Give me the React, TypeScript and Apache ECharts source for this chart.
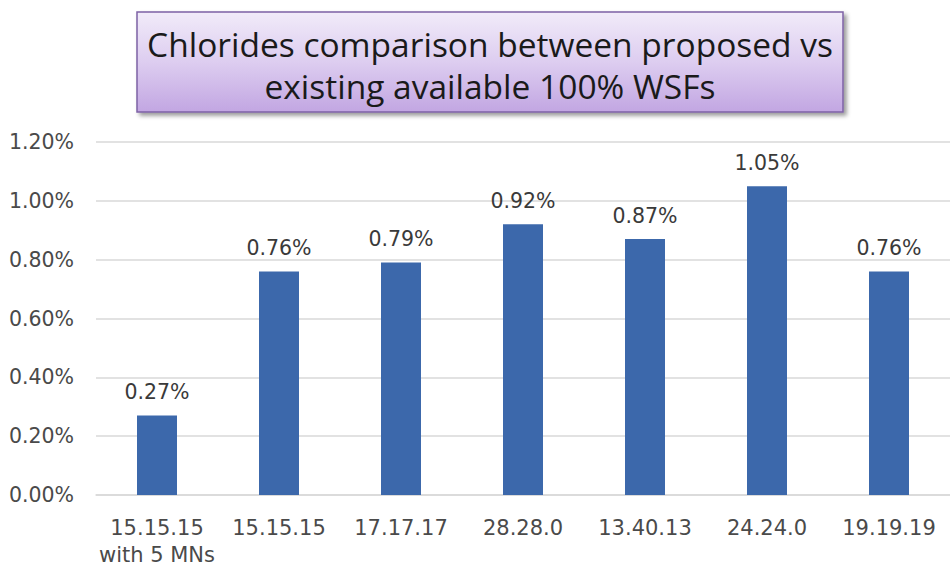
import React, { useEffect, useRef } from "react";
import * as echarts from "echarts";

const categories = ["15.15.15\nwith 5 MNs", "15.15.15", "17.17.17", "28.28.0", "13.40.13", "24.24.0", "19.19.19"];
const values = [0.27, 0.76, 0.79, 0.92, 0.87, 1.05, 0.76];
const titleLines = ["Chlorides comparison between proposed vs", "existing available 100% WSFs"];

export default function App() {
  const ref = useRef<HTMLDivElement>(null);
  useEffect(() => {
    if (!ref.current) return;
    const chart = echarts.init(ref.current, null, { renderer: "svg" });
    chart.setOption({
      animation: false,
      backgroundColor: "#ffffff",
      grid: { left: 96, width: 861, top: 142, bottom: 74, containLabel: false },
      xAxis: {
        type: "category",
        data: categories,
        axisTick: { show: false },
        axisLine: { lineStyle: { color: "#d9d9d9", width: 1.5 } },
        axisLabel: {
          color: "#4a4a4a",
          fontFamily: "DejaVu Sans",
          fontSize: 21,
          margin: 19,
          lineHeight: 27,
          interval: 0,
        },
      },
      yAxis: {
        type: "value",
        min: 0,
        max: 1.2,
        interval: 0.2,
        axisLine: { show: false },
        axisTick: { show: false },
        splitLine: { lineStyle: { color: "#d9d9d9", width: 1.5 } },
        axisLabel: {
          color: "#4a4a4a",
          fontFamily: "DejaVu Sans",
          fontSize: 20.5,
          margin: 22,
          formatter: (v: number) => v.toFixed(2) + "%",
        },
      },
      series: [
        {
          type: "bar",
          data: values,
          barWidth: 40,
          itemStyle: { color: "#3c68ab" },
          label: {
            show: true,
            position: "top",
            distance: 13,
            color: "#3a3a3a",
            fontFamily: "DejaVu Sans",
            fontSize: 20.5,
            formatter: (p: any) => p.value.toFixed(2) + "%",
          },
        },
      ],
      graphic: [
        {
          type: "rect",
          shape: { x: 137, y: 12, width: 706, height: 100 },
          style: {
            fill: new echarts.graphic.LinearGradient(0, 0, 0, 1, [
              { offset: 0, color: "#f1ebf9" },
              { offset: 0.5, color: "#ddcdf0" },
              { offset: 1, color: "#c2a6e2" },
            ]),
            stroke: "#7e62a5",
            lineWidth: 1.5,
            shadowBlur: 4,
            shadowOffsetX: 3,
            shadowOffsetY: 3,
            shadowColor: "rgba(0,0,0,0.4)",
          },
        },
        {
          type: "text",
          x: 490,
          y: 44,
          style: {
            text: titleLines[0],
            fontFamily: "Open Sans",
            fontSize: 33.5,
            fill: "#1a1a1a",
            align: "center",
            verticalAlign: "middle",
          },
        },
        {
          type: "text",
          x: 490,
          y: 86,
          style: {
            text: titleLines[1],
            fontFamily: "Open Sans",
            fontSize: 33.5,
            fill: "#1a1a1a",
            align: "center",
            verticalAlign: "middle",
          },
        },
      ],
    });
    return () => chart.dispose();
  }, []);
  return <div ref={ref} style={{ position: "fixed", left: 0, top: 0, width: 950, height: 569 }} />;
}
